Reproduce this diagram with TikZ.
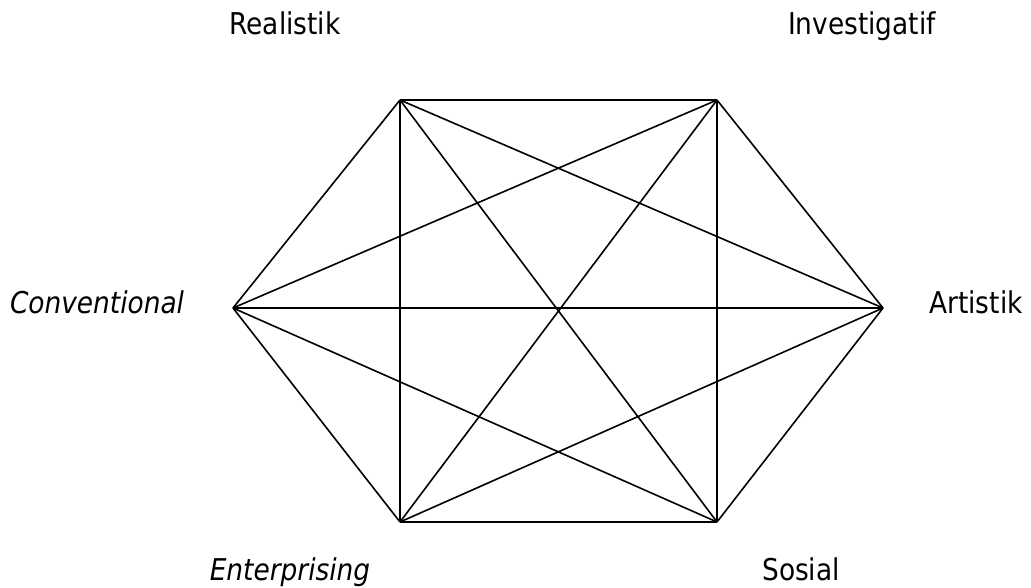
\documentclass[tikz,border=0pt]{standalone}
\usepackage{fontspec}
\setmainfont{DejaVu Sans}[FakeStretch=0.88]
\usetikzlibrary{positioning}
\tikzset{
  edge/.style={line width=1.6pt, draw=black, line join=miter},
  lbl/.style={font=\fontsize{30}{36}\selectfont, inner sep=0pt, anchor=base},
  lbli/.style={lbl, font=\fontsize{30}{36}\selectfont\itshape},
}

\begin{document}
\begin{tikzpicture}[x=1pt, y=-1pt]
\useasboundingbox (0,0) rectangle (1031,588);
% --- sudut heksagon ---
\coordinate (R) at (400,100);
\coordinate (I) at (717,100);
\coordinate (A) at (883,308);
\coordinate (S) at (717,522);
\coordinate (E) at (400,522);
\coordinate (C) at (233,308);

% --- label tipe ---
\node[lbl]  (lR) at (285,35)  {Realistik};
\node[lbl]  (lI) at (862,35)  {Investigatif};
\node[lbl]  (lA) at (976,313) {Artistik};
\node[lbl]  (lS) at (801,580) {Sosial};
\node[lbli] (lE) at (290,580) {Enterprising};
\node[lbli] (lC) at (97,313)  {Conventional};

% --- sisi dan diagonal ---
\foreach \a/\b in {R/I, I/A, A/S, S/E, E/C, C/R,
                   R/A, R/S, R/E, I/S, I/E, I/C,
                   A/E, A/C, S/C} {
  \draw[edge] (\a) -- (\b);
}
\end{tikzpicture}
\end{document}
